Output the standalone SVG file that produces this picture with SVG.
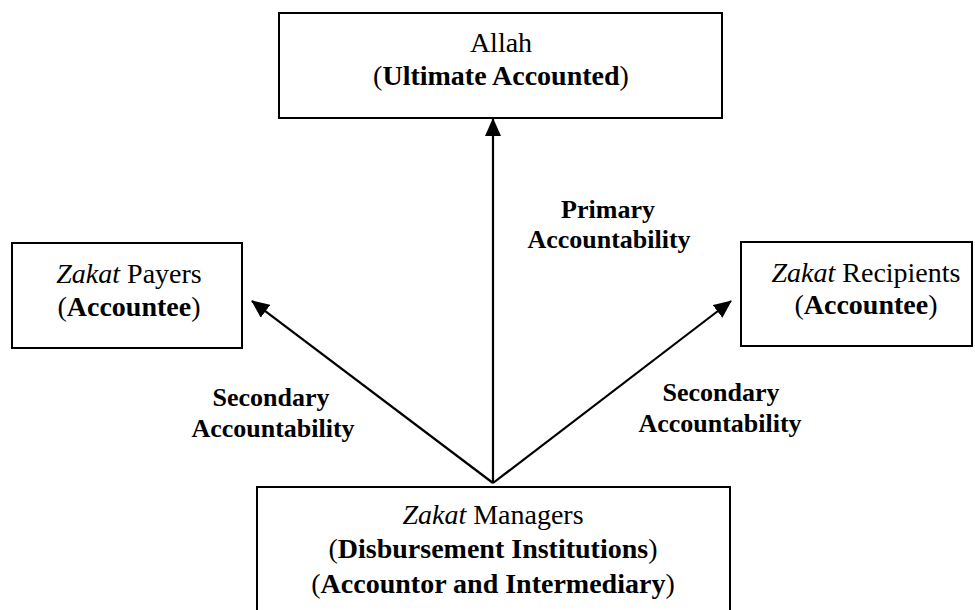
<svg xmlns="http://www.w3.org/2000/svg" width="975" height="610" viewBox="0 0 975 610">
<defs>
<style>
.box{fill:#fff;stroke:#000;stroke-width:2}
.t{font-family:"Liberation Serif","Times New Roman",serif;font-size:28px;fill:#000;text-anchor:middle}
.lbl{font-family:"Liberation Serif","Times New Roman",serif;font-size:26px;font-weight:bold;fill:#000;text-anchor:middle}
.b{font-weight:bold}
.i{font-style:italic}
.c{stroke:#000;stroke-width:2.2;fill:none;marker-end:url(#ah)}
</style>
<marker id="ah" markerUnits="userSpaceOnUse" markerWidth="18" markerHeight="16" viewBox="0 0 18 16" refX="17" refY="8" orient="auto">
<path d="M0,0 L18,8 L0,16 Z" fill="#000"/>
</marker>
</defs>
<rect width="975" height="610" fill="#fff"/>
<g id="connectors">
<line class="c" x1="493" y1="483" x2="493" y2="119"/>
<line class="c" x1="493" y1="483" x2="252" y2="301"/>
<line class="c" x1="493" y1="483" x2="731" y2="301"/>
</g>
<g id="allah">
<rect class="box" x="279" y="13" width="443" height="105"/>
<text class="t" x="501" y="52">Allah</text>
<text class="t" x="501" y="85">(<tspan class="b">Ultimate Accounted</tspan>)</text>
</g>
<g id="payers">
<rect class="box" x="12" y="243" width="230" height="105"/>
<text class="t" x="129" y="283"><tspan class="i">Zakat</tspan> Payers</text>
<text class="t" x="129" y="316">(<tspan class="b">Accountee</tspan>)</text>
</g>
<g id="recipients">
<rect class="box" x="741" y="242" width="231" height="104"/>
<text class="t" x="866" y="282"><tspan class="i">Zakat</tspan> Recipients</text>
<text class="t" x="866" y="314">(<tspan class="b">Accountee</tspan>)</text>
</g>
<g id="managers">
<rect class="box" x="257" y="487" width="473" height="140"/>
<text class="t" x="493" y="524"><tspan class="i">Zakat</tspan> Managers</text>
<text class="t" x="493" y="558">(<tspan class="b">Disbursement Institutions</tspan>)</text>
<text class="t" x="493" y="593">(<tspan class="b">Accountor and Intermediary</tspan>)</text>
</g>
<g id="labels">
<text class="lbl" x="608" y="218">Primary</text>
<text class="lbl" x="609" y="248">Accountability</text>
<text class="lbl" x="271" y="406">Secondary</text>
<text class="lbl" x="273" y="437">Accountability</text>
<text class="lbl" x="721" y="401">Secondary</text>
<text class="lbl" x="720" y="432">Accountability</text>
</g>
</svg>
